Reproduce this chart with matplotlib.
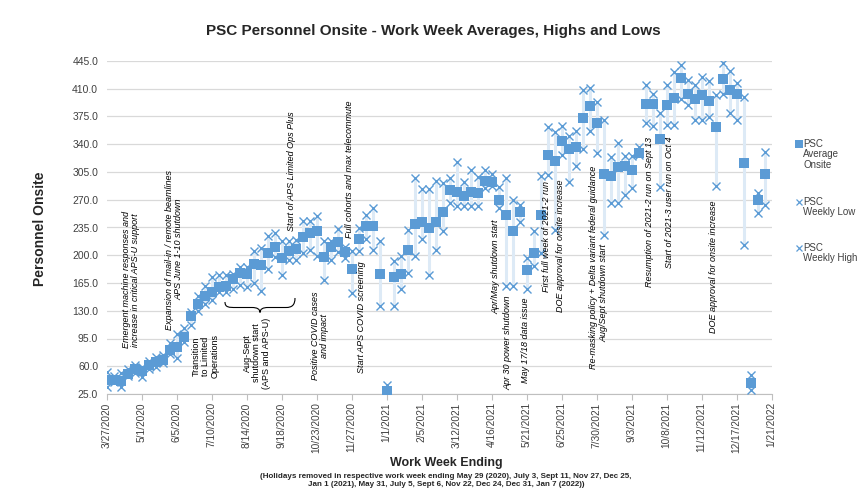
import matplotlib
matplotlib.use('Agg')
import matplotlib.pyplot as plt
import numpy as np
import pandas as pd
from matplotlib.lines import Line2D
from matplotlib.path import Path
from matplotlib.patches import PathPatch

plt.rcParams['font.family'] = ['Liberation Sans', 'DejaVu Sans']

# ---------------- data ----------------
week_ending = pd.date_range('2020-03-27', periods=95, freq='7D')

avg_onsite = [42.6, 43, 41, 50, 57, 54, 61.6, 65, 68, 81,
              84, 97, 123, 138, 148.6, 154, 160, 161, 169.6, 177,
              176, 189, 187.6, 202.6, 209.8, 196.5, 205, 208.5, 223.4, 228,
              231, 198.3, 211, 216.5, 203.5, 182.5, 220.7, 237.5, 237.5, 176,
              29, 172, 176, 207, 240, 242.3, 234, 242.3, 255, 282.3,
              280, 275, 280, 279, 294, 292, 269.7, 250.7, 230, 255,
              181.4, 202.6, 250.7, 326.5, 319, 344, 333.6, 336, 372.6, 388.2,
              366.4, 302.4, 300.3, 311, 312.5, 307.5, 328.5, 390.7, 390.3, 346,
              389.5, 398.8, 423, 404, 396.5, 402, 395, 362, 422.3, 408.4,
              403, 316, 38.5, 269.7, 302]

weekly_low = [33.5, 40, 34, 48, 51, 47, 57, 59, 64, 75,
              70, 91, 112, 130, 138, 143, 154, 154, 157, 163,
              160, 165, 155, 183, 198, 175.5, 194, 194, 202.6, 207,
              198.5, 169, 194, 204.6, 196.5, 153, 205.7, 220, 206.7, 135.5,
              26, 135.5, 158, 177, 198.5, 221, 175, 207, 231, 266,
              262, 262, 262, 262, 284.4, 287.3, 259, 161, 161, 242,
              157, 186.4, 203, 301, 231.5, 326.4, 292.7, 312.5, 333.6, 357,
              329.5, 225.5, 265.5, 265.5, 276, 284.4, 326, 367, 363, 286.4,
              364.3, 364.3, 396.5, 389.5, 370.5, 370.5, 374.7, 287, 403.4, 379.8,
              370, 213, 30, 252.7, 263.4]

weekly_high = [53, 48, 52, 56, 62, 59, 66, 72, 74, 89.7,
               100.6, 108, 128, 148, 161, 172, 175, 175, 176, 185.5,
               185.5, 205, 209, 224, 228, 218, 218, 219, 243, 243,
               249, 218, 218, 233, 211, 205, 234, 250.7, 260, 218,
               36, 193, 199.4, 231.5, 298, 283, 284, 294, 290.7, 298,
               318, 292.7, 307.5, 299, 307.5, 302.4, 286.4, 297, 269.7, 264,
               196, 231, 300, 361.3, 355.8, 363, 350, 357, 408.4, 410.5,
               393.7, 370, 324.3, 341, 325, 325, 337, 414.7, 403.4, 380,
               414.7, 431.5, 440, 421, 414.7, 424.3, 420, 402, 442, 433,
               416.7, 399, 49, 278.8, 330.6]

x_tick_dates = pd.date_range('2020-03-27', '2022-01-21', freq='35D')
x_tick_labels = [f"{d.month}/{d.day}/{d.year}" for d in x_tick_dates]
y_ticks = [25, 60, 95, 130, 165, 200, 235, 270, 305, 340, 375, 410, 445]

annotations = [
    ("Emergent machine responses and\nincrease in critical APS-U support", 131, 280, True),
    ("Expansion of mail-in / remote beamlines\nAPS June 1-10 shutdown", 174.5, 249.5, True),
    ("Transition\nto Limited\nOperations", 205.5, 356.5, False),
    ("Aug-Sept\nshutdown start\n(APS and APS-U)", 256.7, 353, False),
    ("Start of APS Limited Ops Plus", 291.7, 171.5, True),
    ("Positive COVID cases\nand impact", 320, 336, True),
    ("Full cohorts and max telecommute", 349.3, 169, True),
    ("Start APS COVID screening", 361.7, 317.5, True),
    ("Apr/May shutdown start", 496, 266.7, True),
    ("Apr 30 power shutdown", 508.3, 343, True),
    ("May 17/18 data issue", 525, 340, True),
    ("First full week of 2021-2 run", 546.7, 236.7, True),
    ("DOE approval for onsite increase", 560.7, 245.8, True),
    ("Re-masking policy + Delta variant federal guidance", 593.3, 267.5, True),
    ("Aug/Sept shutdown start", 604.3, 293.3, True),
    ("Resumption of 2021-2 run on Sept 13", 650, 211.7, True),
    ("Start of 2021-3 user run on Oct 4", 670, 202.5, True),
    ("DOE approval for onsite increase", 713.3, 266.7, True),
]

# ---------------- figure ----------------
W, H = 866, 491
fig = plt.figure(figsize=(W / 100, H / 100), dpi=100)

def fx(x):
    return x / W

def fy(y):
    return 1 - y / H

ax = fig.add_axes([fx(106.5), fy(394), (771.5 - 106.5) / W, (394 - 61) / H])

blue = '#5B9BD5'
ax.vlines(week_ending, weekly_low, weekly_high, color='#DDEAF6', lw=2.2, zorder=1)
ax.plot(week_ending, weekly_low, linestyle='none', marker='x', color=blue,
        ms=5.5, mew=1.0, zorder=3)
ax.plot(week_ending, weekly_high, linestyle='none', marker='x', color=blue,
        ms=5.5, mew=1.0, zorder=3)
ax.plot(week_ending, avg_onsite, linestyle='none', marker='s', color=blue,
        ms=6.8, mew=0, zorder=4)

ax.set_xlim(x_tick_dates[0], x_tick_dates[-1])
ax.set_xticks(x_tick_dates)
ax.set_xticklabels(x_tick_labels, rotation=90, fontsize=7.3, color='#404040')
ax.set_ylim(25, 445)
ax.set_yticks(y_ticks)
ax.set_yticklabels([f"{v:.1f}" for v in y_ticks], fontsize=7.5, color='#404040')
ax.tick_params(axis='y', length=0, pad=6)
ax.tick_params(axis='x', length=4, color='#BFBFBF', pad=2)
ax.grid(axis='y', color='#D9D9D9', lw=0.9)
ax.set_axisbelow(True)
for s in ['left', 'top', 'right']:
    ax.spines[s].set_visible(False)
ax.spines['bottom'].set_color('#BFBFBF')
ax.patch.set_alpha(0)

# titles and axis labels
fig.text(fx(433.5), fy(31), 'PSC Personnel Onsite - Work Week Averages, Highs and Lows',
         ha='center', va='center', fontsize=11, fontweight='bold', color='#262626')
fig.text(fx(40), fy(229), 'Personnel Onsite', rotation=90, ha='center', va='center',
         fontsize=10, fontweight='bold', color='#262626')
fig.text(fx(446), fy(463), 'Work Week Ending', ha='center', va='center',
         fontsize=9, fontweight='bold', color='#262626')
fig.text(fx(446), fy(480.5),
         '(Holidays removed in respective work week ending May 29 (2020), July 3, Sept 11, Nov 27, Dec 25,\n'
         'Jan 1 (2021), May 31, July 5, Sept 6, Nov 22, Dec 24, Dec 31, Jan 7 (2022))',
         ha='center', va='center', fontsize=5.8, fontweight='bold', color='#262626',
         family=['Liberation Sans Narrow', 'Liberation Sans'], linespacing=1.25)

# annotations
for text, x, y, ital in annotations:
    fig.text(fx(x), fy(y), text, rotation=90, ha='center', va='center',
             fontsize=6.5, style='italic' if ital else 'normal',
             multialignment='center', linespacing=1.1, color='black')

# curly brace under Aug-Sept text
verts = [(225, 302), (225, 307.5), (229, 307.5), (236, 307.5),
         (252, 307.5), (257, 307.5), (260, 309), (260, 312.5),
         (260, 309), (263, 307.5), (268, 307.5), (286, 307.5),
         (292, 307.5), (295, 305), (295, 298)]
codes = [Path.MOVETO, Path.CURVE4, Path.CURVE4, Path.CURVE4,
         Path.LINETO, Path.CURVE4, Path.CURVE4, Path.CURVE4,
         Path.CURVE4, Path.CURVE4, Path.CURVE4, Path.LINETO,
         Path.CURVE4, Path.CURVE4, Path.CURVE4]
brace = Path([(fx(a), fy(b)) for a, b in verts], codes)
fig.add_artist(PathPatch(brace, transform=fig.transFigure, fill=False,
                         edgecolor='black', lw=0.8))

# legend (manual)
leg_items = [('s', 'PSC\nAverage\nOnsite', 144), ('x', 'PSC\nWeekly Low', 201.5), ('x', 'PSC\nWeekly High', 248)]
for mk, lab, yy in leg_items:
    if mk == 's':
        fig.add_artist(Line2D([fx(799)], [fy(yy)], marker='s', color=blue, ms=6, mew=0,
                              linestyle='none', transform=fig.transFigure))
    else:
        fig.add_artist(Line2D([fx(799)], [fy(yy)], marker='x', color=blue, ms=5, mew=0.9,
                              linestyle='none', transform=fig.transFigure))
    fig.text(fx(803), fy(yy - 5), lab, ha='left', va='top', fontsize=7, color='#404040',
             linespacing=1.05)

fig.savefig('out.png', dpi=100)
